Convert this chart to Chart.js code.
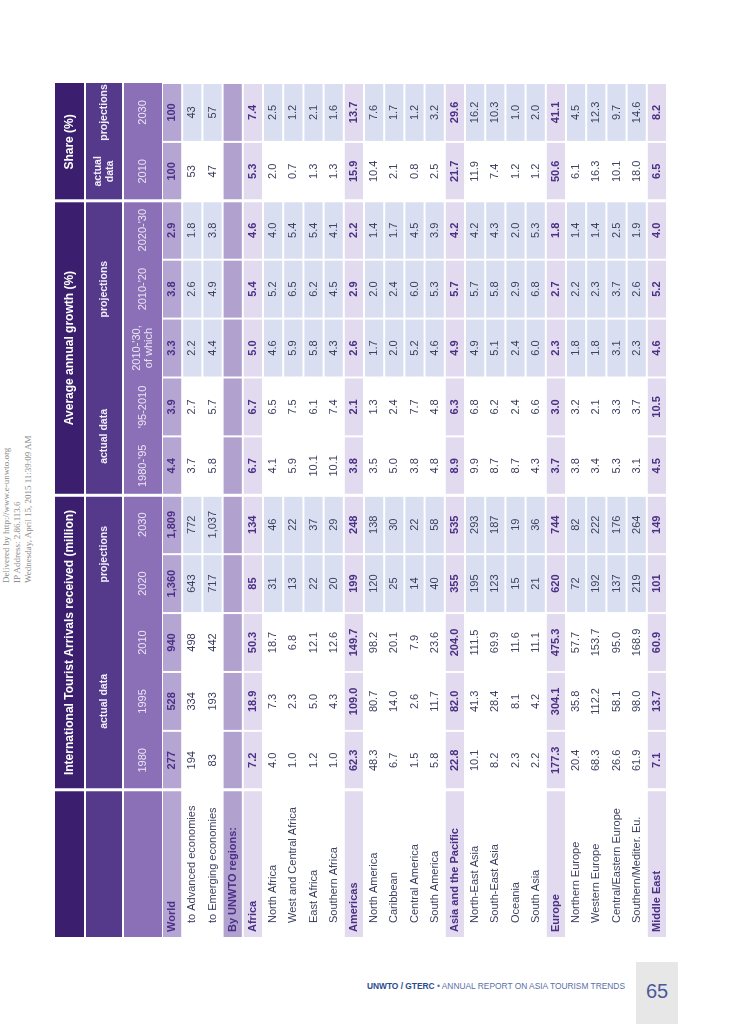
<!DOCTYPE html>
<html><head><meta charset="utf-8">
<script src="https://cdn.jsdelivr.net/npm/chart.js@4"></script>
<style>
body{margin:0;background:#fff;width:741px;height:1024px;position:relative;overflow:hidden;font-family:"Liberation Sans",Arial,sans-serif}
#wrap{position:absolute;left:55px;top:937px;width:854px;height:612px;transform-origin:0 0;transform:rotate(-90deg)}
#wm{position:absolute;left:1px;top:583px;transform-origin:0 0;transform:rotate(-90deg);font-size:9px;line-height:11px;color:#8a8a8a;white-space:nowrap;font-family:"Liberation Serif",serif}
#foot{position:absolute;right:116px;top:981px;font-size:8.4px;color:#5a6fa8;white-space:nowrap}
#foot b{color:#2c4b8e}
#pg{position:absolute;left:636px;top:962px;width:42px;height:62px;background:#e7e7e7;color:#4a5a9a;font-size:20px;text-align:center;line-height:58px}
</style></head><body>
<div id="wm">Delivered by http://www.e-unwto.org<br>IP Address: 2.86.113.6<br>Wednesday, April 15, 2015 11:39:09 AM</div>
<div id="wrap"><canvas id="c"></canvas></div>
<div id="foot"><b>UNWTO / GTERC</b> • ANNUAL REPORT ON ASIA TOURISM TRENDS</div>
<div id="pg">65</div>
<script>
const rowLabels=["World","to Advanced economies","to Emerging economies","By UNWTO regions:","Africa","North Africa","West and Central Africa","East Africa","Southern Africa","Americas","North America","Caribbean","Central America","South America","Asia and the Pacific","North-East Asia","South-East Asia","Oceania","South Asia","Europe","Northern Europe","Western Europe","Central/Eastern Europe","Southern/Mediter. Eu.","Middle East"];
const rowKinds=["top","sub0","sub0","band","agg","sub","sub","sub","sub","agg","sub","sub","sub","sub","agg","sub","sub","sub","sub","agg","sub","sub","sub","sub","agg"];
const columnLabels=["1980","1995","2010","2020","2030","1980-'95","'95-2010","2010-'30,\nof which","2010-'20","2020-'30","2010","2030"];
const projectionColumn=[0,0,0,1,1,0,0,1,1,1,0,1];
const arr1980=[277,194,83,null,7.2,4.0,1.0,1.2,1.0,62.3,48.3,6.7,1.5,5.8,22.8,10.1,8.2,2.3,2.2,177.3,20.4,68.3,26.6,61.9,7.1];
const arr1995=[528,334,193,null,18.9,7.3,2.3,5.0,4.3,109.0,80.7,14.0,2.6,11.7,82.0,41.3,28.4,8.1,4.2,304.1,35.8,112.2,58.1,98.0,13.7];
const arr2010=[940,498,442,null,50.3,18.7,6.8,12.1,12.6,149.7,98.2,20.1,7.9,23.6,204.0,111.5,69.9,11.6,11.1,475.3,57.7,153.7,95.0,168.9,60.9];
const arr2020=[1360,643,717,null,85,31,13,22,20,199,120,25,14,40,355,195,123,15,21,620,72,192,137,219,101];
const arr2030=[1809,772,1037,null,134,46,22,37,29,248,138,30,22,58,535,293,187,19,36,744,82,222,176,264,149];
const gr8095=[4.4,3.7,5.8,null,6.7,4.1,5.9,10.1,10.1,3.8,3.5,5.0,3.8,4.8,8.9,9.9,8.7,8.7,4.3,3.7,3.8,3.4,5.3,3.1,4.5];
const gr9510=[3.9,2.7,5.7,null,6.7,6.5,7.5,6.1,7.4,2.1,1.3,2.4,7.7,4.8,6.3,6.8,6.2,2.4,6.6,3.0,3.2,2.1,3.3,3.7,10.5];
const gr1030=[3.3,2.2,4.4,null,5.0,4.6,5.9,5.8,4.3,2.6,1.7,2.0,5.2,4.6,4.9,4.9,5.1,2.4,6.0,2.3,1.8,1.8,3.1,2.3,4.6];
const gr1020=[3.8,2.6,4.9,null,5.4,5.2,6.5,6.2,4.5,2.9,2.0,2.4,6.0,5.3,5.7,5.7,5.8,2.9,6.8,2.7,2.2,2.3,3.7,2.6,5.2];
const gr2030=[2.9,1.8,3.8,null,4.6,4.0,5.4,5.4,4.1,2.2,1.4,1.7,4.5,3.9,4.2,4.2,4.3,2.0,5.3,1.8,1.4,1.4,2.5,1.9,4.0];
const share2010=[100,53,47,null,5.3,2.0,0.7,1.3,1.3,15.9,10.4,2.1,0.8,2.5,21.7,11.9,7.4,1.2,1.2,50.6,6.1,16.3,10.1,18.0,6.5];
const share2030=[100,43,57,null,7.4,2.5,1.2,2.1,1.6,13.7,7.6,1.7,1.2,3.2,29.6,16.2,10.3,1.0,2.0,41.1,4.5,12.3,9.7,14.6,8.2];
const columns=[arr1980,arr1995,arr2010,arr2020,arr2030,gr8095,gr9510,gr1030,gr1020,gr2030,share2010,share2030];
const groupTitles=[["International Tourist Arrivals received (million)",0,5],["Average annual growth (%)",5,10],["Share (%)",10,12]];
const subTitles=[["actual data",0,3],["projections",3,5],["actual data",5,7],["projections",7,10],["actual\ndata",10,11],["projections",11,12]];

const LABELW=2.5, H1=30,H2=38,H3=39, HEAD=H1+H2+H3;
const ROWH=(612-HEAD)/rowLabels.length;
function fmt(v,c,r){
  if(v==null)return"";
  let dec=1;
  if(c===3||c===4)dec=0;
  else if((c<=2||c>=10)&&r<3)dec=0;
  return v.toLocaleString("en-US",{minimumFractionDigits:dec,maximumFractionDigits:dec});
}
const tablePlugin={id:"table",afterDraw(ch){
  const ctx=ch.ctx,xs=ch.scales.x,ys=ch.scales.y;
  const X=u=>xs.getPixelForValue(u),Y=u=>ys.getPixelForValue(u);
  const cx0=i=>X(LABELW+i),cx1=i=>X(LABELW+i+1);
  ctx.save();
  function box(x0,y0,x1,y1,col){ctx.fillStyle=col;ctx.fillRect(x0,y0,x1-x0,y1-y0);}
  function txt(s,x,y,font,col,al){ctx.font=font;ctx.fillStyle=col;ctx.textAlign=al||"center";ctx.textBaseline="middle";
    const ls=s.split("\n");ls.forEach((l,k)=>ctx.fillText(l,x,y+(k-(ls.length-1)/2)*12));}
  box(X(0),Y(0),X(LABELW+12),Y(H1),"#3b1f6e");
  box(X(0),Y(H1),X(LABELW+12),Y(H1+H2),"#553a8c");
  box(X(0),Y(H1+H2),X(LABELW+12),Y(HEAD),"#8b70b7");
  groupTitles.forEach(([t,a,b])=>{txt(t,(cx0(a)+cx0(b))/2,Y(H1/2),"bold 12px 'Liberation Sans'","#fff");});
  subTitles.forEach(([t,a,b])=>{txt(t,(cx0(a)+cx0(b))/2,Y(H1+H2/2),"bold 10.5px 'Liberation Sans'","#f2eefa");});
  columnLabels.forEach((t,i)=>{txt(t,(cx0(i)+cx1(i))/2,Y(H1+H2+H3/2),"11px 'Liberation Sans'","#ece6f6");});
  rowLabels.forEach((lab,r)=>{
    const y0=Y(HEAD+r*ROWH),y1=Y(HEAD+(r+1)*ROWH),ym=(y0+y1)/2,k=rowKinds[r];
    let labBg="#ffffff";
    if(k==="top")labBg="#b4a5d2";else if(k==="band")labBg="#b1a1cf";else if(k==="agg")labBg="#e2daee";
    box(X(0),y0+1,X(LABELW),y1-1,labBg);
    columns.forEach((col,i)=>{
      let bg=projectionColumn[i]?"#d9dff0":"#ffffff";
      if(k==="top")bg="#b4a5d2";else if(k==="band")bg="#b1a1cf";else if(k==="agg")bg="#e2daee";
      box(cx0(i)+1,y0+1,cx1(i)-1,y1-1,bg);
      const strong=(k==="top"||k==="agg");
      txt(fmt(col[r],i,r),(cx0(i)+cx1(i))/2,ym,(strong?"bold ":"")+"11px 'Liberation Sans'",strong?"#4b2f86":"#3a3d5e");
    });
    const strong=(k==="top"||k==="agg"||k==="band");
    const ind=(k==="sub"||k==="sub0")?14:5;
    txt(lab,X(0)+ind,ym,(strong?"bold ":"")+"11px 'Liberation Sans'",strong?"#4b2f86":"#3a3d5e","left");
  });
  [0,5,10].forEach(i=>{ctx.fillStyle="#ffffff";ctx.fillRect(cx0(i)-1.5,Y(0),3,Y(612)-Y(0));});
  ctx.fillStyle="#ffffff";ctx.fillRect(X(0),Y(H1)-1,X(LABELW+12)-X(0),2);ctx.fillRect(X(0),Y(H1+H2)-1,X(LABELW+12)-X(0),2);
  ctx.restore();
}};
new Chart(document.getElementById("c"),{type:"scatter",data:{datasets:[{data:[]}]},
  options:{responsive:true,maintainAspectRatio:false,animation:false,layout:{padding:0},
    plugins:{legend:{display:false},tooltip:{enabled:false}},
    scales:{x:{type:"linear",min:0,max:LABELW+12,display:false},y:{type:"linear",min:0,max:612,reverse:true,display:false}}},
  plugins:[tablePlugin]});
</script></body></html>
